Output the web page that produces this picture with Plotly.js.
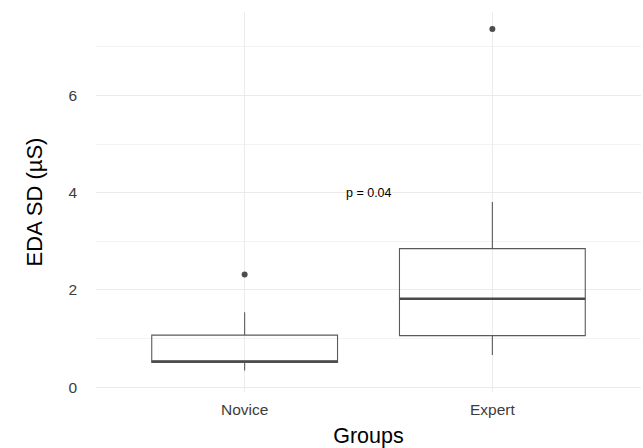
<!DOCTYPE html>
<html>
<head>
<meta charset="utf-8">
<script src="https://cdn.plot.ly/plotly-3.0.1.min.js"></script>
<style>html,body{margin:0;padding:0;background:#fff;}#chart{width:643px;height:448px;}</style>
</head>
<body>
<div id="chart"></div>
<script>
// Data
const groups = ["Novice", "Expert"];
const lowerWhisker = [0.34, 0.66];
const q1 = [0.51, 1.06];
const median = [0.53, 1.82];
const q3 = [1.07, 2.85];
const upperWhisker = [1.54, 3.81];
const outlierGroups = ["Novice", "Expert"];
const outlierValues = [2.32, 7.37];
const pLabel = "p = 0.04";
const pY = 4;

const boxWidth = 0.75;
const lineGray = "#5a5a5a";

const traces = [{
  type: "box",
  x: groups,
  q1: q1, median: median, q3: q3,
  lowerfence: lowerWhisker, upperfence: upperWhisker,
  width: boxWidth,
  whiskerwidth: 0,
  fillcolor: "rgba(255,255,255,0)",
  line: {color: lineGray, width: 1.1},
  boxpoints: false,
  hoverinfo: "skip",
  showlegend: false
}];

// thicker median segments (ggplot fatten)
const mx = [], my = [];
groups.forEach((g, i) => {
  mx.push(i - boxWidth / 2, i + boxWidth / 2, null);
  my.push(median[i], median[i], null);
});
traces.push({
  type: "scatter", mode: "lines", x: mx, y: my, xaxis: "x2",
  line: {color: "#4a4a4a", width: 2.4}, showlegend: false, hoverinfo: "skip"
});

traces.push({
  type: "scatter", mode: "markers",
  x: outlierGroups, y: outlierValues,
  marker: {color: "#4d4d4d", size: 6},
  showlegend: false, hoverinfo: "skip"
});

const font = "Liberation Sans, Arial, Helvetica, sans-serif";
const layout = {
  width: 643, height: 448,
  margin: {l: 96, r: 2, t: 12, b: 56},
  paper_bgcolor: "#fff", plot_bgcolor: "#fff",
  font: {family: font, color: "#4d4d4d"},
  xaxis: {
    type: "category", categoryorder: "array", categoryarray: groups,
    range: [-0.6, 1.6],
    showgrid: true, gridcolor: "#ebebeb", gridwidth: 1,
    zeroline: false, showline: false, ticks: "",
    tickfont: {size: 15.5, color: "#3d3d3d", family: font},
    ticklabelstandoff: 6,
    title: {text: "Groups", font: {size: 21.5, color: "#000", family: font}, standoff: 12},
    automargin: false
  },
  xaxis2: {
    overlaying: "x", range: [-0.6, 1.6], visible: false, showgrid: false
  },
  yaxis: {
    range: [-0.1, 7.72],
    tickvals: [0, 2, 4, 6],
    showgrid: true, gridcolor: "#ebebeb", gridwidth: 1,
    minor: {dtick: 1, tick0: 0, showgrid: true, gridcolor: "#f3f3f3", gridwidth: 1},
    zeroline: false, showline: false, ticks: "",
    tickfont: {size: 15.5, color: "#3d3d3d", family: font},
    ticklabelstandoff: 18,
    title: {text: "EDA SD (µS)", font: {size: 22, color: "#000", family: font}, standoff: 19},
    automargin: false
  },
  annotations: [{
    x: 0.5, xref: "x2", y: pY, yref: "y",
    text: pLabel, showarrow: false,
    font: {size: 12.5, color: "#000", family: font}
  }]
};

Plotly.newPlot("chart", traces, layout, {staticPlot: true, displayModeBar: false});
</script>
</body>
</html>
